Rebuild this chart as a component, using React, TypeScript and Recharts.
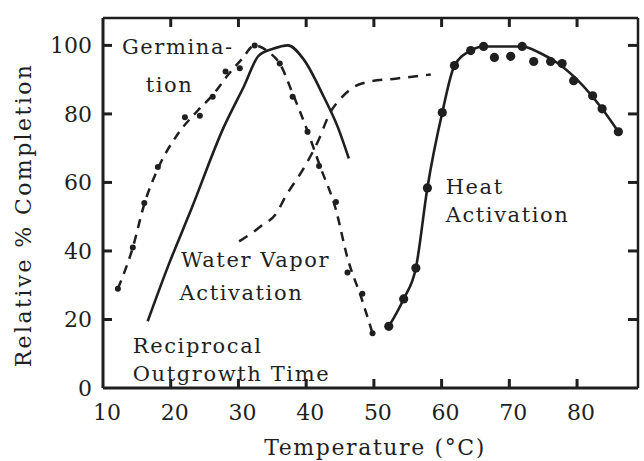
import { ComposedChart, Line, Scatter, XAxis, YAxis, ReferenceDot, ReferenceLine } from 'recharts'

// temperature (°C) and relative % completion
const germDotTemp = [12.2, 14.4, 16.1, 18.1, 22.1, 24.3, 26.2, 28.1, 30.2, 32.4, 36.1, 38.0, 40.2, 41.9, 44.4, 46.1, 48.3, 49.8]
const germDotPct = [29, 41, 54, 64.5, 79, 79.5, 85, 92.4, 93.3, 100, 94.7, 85, 74.8, 64.8, 54.3, 33.7, 27.5, 16]

// the dashed germination curve drawn through those dots
const germCurveTemp = [12.2, 14.4, 16.1, 18.1, 21.0, 24.0, 26.2, 28.5, 30.5, 32.4, 34.5, 36.1, 38.0, 40.2, 42.0, 44.4, 46.1, 48.2, 49.8]
const germCurvePct = [29, 41, 53.7, 64, 74, 81, 85.5, 91.5, 96, 100, 98, 94.7, 86, 75, 65, 52, 38, 26, 16]

const recipTemp = [16.6, 19.6, 23.0, 27.8, 30.8, 33.0, 35.1, 37.3, 39.6, 42.6, 44.7, 46.3]
const recipPct = [19.5, 35.5, 52, 76, 88, 97, 99, 100, 96, 85, 76, 67]

const vaporTemp = [30.1, 33.3, 35.8, 36.7, 39.6, 41.7, 43.6, 45.1, 46.6, 49.5, 53.2, 58.4]
const vaporPct = [42.8, 47.2, 51.6, 55, 64, 71.8, 80.6, 84.5, 87.3, 89.5, 90.3, 91.5]

const heatCurveTemp = [52.2, 54.4, 56.2, 57.9, 60.1, 61.9, 64.3, 66.2, 71.9, 74.6, 77.0, 80.0, 83.7, 86.1]
const heatCurvePct = [18, 26, 35, 58.4, 80.4, 94.1, 98.5, 99.7, 99.7, 97.7, 95, 90, 81.5, 74.8]

const heatDotTemp = [52.2, 54.4, 56.2, 57.9, 60.1, 61.9, 64.3, 66.2, 67.8, 70.2, 71.9, 73.6, 76.1, 77.8, 79.5, 82.3, 83.7, 86.1]
const heatDotPct = [18, 26, 35, 58.4, 80.4, 94.1, 98.5, 99.7, 96.5, 96.8, 99.7, 95.3, 95.3, 94.7, 89.7, 85.3, 81.5, 74.8]

const xMin = 10
const xMax = 89
const yMax = 108
const xTicks = [10, 20, 30, 40, 50, 60, 70, 80]
const yTicks = [0, 20, 40, 60, 80, 100]
const topTicks = [20, 30, 40, 50, 60, 70, 80]
const rightTicks = [20, 40, 60, 80, 100]

// text labels placed at [temp, pct] (left end, baseline)
const notes: [string, number, number][] = [
  ['Germina-', 12.8, 97.4],
  ['tion', 16.3, 86.5],
  ['Water Vapor', 21.5, 35.3],
  ['Activation', 21.3, 25.8],
  ['Reciprocal', 14.4, 10.3],
  ['Outgrowth  Time', 14.4, 2.0],
  ['Heat', 60.6, 56.6],
  ['Activation', 60.6, 48.4],
]

const zip = (xs: number[], ys: number[]) => xs.map((t, i) => ({ t, p: ys[i] }))

const ink = '#1f1f1f'
const font = '"DejaVu Serif", serif'

const BottomTick = (props: any) => {
  const { x, y, payload } = props
  return (
    <g>
      {payload.value !== 10 && <line x1={x} x2={x} y1={y} y2={y - 9} stroke={ink} strokeWidth={3} />}
      <text x={x + 4} y={y + 32} textAnchor="middle" fontSize={22} fontFamily={font} fill={ink}>
        {payload.value}
      </text>
    </g>
  )
}

const LeftTick = (props: any) => {
  const { x, y, payload } = props
  return (
    <g>
      {payload.value !== 0 && <line x1={x} x2={x + 9} y1={y} y2={y} stroke={ink} strokeWidth={3} />}
      <text x={x - 11} y={y + 8} textAnchor="end" fontSize={22} fontFamily={font} fill={ink}>
        {payload.value}
      </text>
    </g>
  )
}

const SmallDot = (props: any) => {
  const { cx, cy } = props
  return <circle cx={cx} cy={cy} r={3} fill={ink} stroke="none" />
}

const BigDot = (props: any) => {
  const { cx, cy } = props
  return <circle cx={cx} cy={cy} r={4.6} fill={ink} stroke="none" />
}

export default function App() {
  return (
    <div style={{ position: 'absolute', left: 0, top: 0, width: 644, height: 461, background: '#fff' }}>
      <ComposedChart width={644} height={461} margin={{ top: 18, right: 6, bottom: 0, left: 0 }}>
        <XAxis
          type="number"
          dataKey="t"
          domain={[xMin, xMax]}
          ticks={xTicks}
          allowDataOverflow
          height={73}
          tickSize={0}
          tickMargin={0}
          tickLine={false}
          axisLine={{ stroke: ink, strokeWidth: 3 }}
          tick={<BottomTick />}
          label={{
            content: () => (
              <text x={375} y={455} textAnchor="middle" fontSize={22} letterSpacing={1.6} fontFamily={font} fill={ink}>
                Temperature (°C)
              </text>
            ),
          }}
        />
        <YAxis
          type="number"
          domain={[0, yMax]}
          ticks={yTicks}
          allowDataOverflow
          width={103}
          tickSize={0}
          tickMargin={0}
          tickLine={false}
          axisLine={{ stroke: ink, strokeWidth: 3 }}
          tick={<LeftTick />}
          label={{
            content: () => (
              <text
                x={31}
                y={215}
                transform="rotate(-90 31 215)"
                textAnchor="middle"
                fontSize={22}
                letterSpacing={2.4}
                fontFamily={font}
                fill={ink}
              >
                Relative % Completion
              </text>
            ),
          }}
        />

        {/* top and right sides of the frame, with short inward ticks */}
        <ReferenceLine y={yMax} stroke={ink} strokeWidth={2.5} />
        <ReferenceLine x={xMax} stroke={ink} strokeWidth={2.5} />
        {topTicks.map((t) => (
          <ReferenceDot
            key={'t' + t}
            x={t}
            y={yMax}
            r={0}
            ifOverflow="visible"
            shape={(s: any) => <line x1={s.cx} x2={s.cx} y1={s.cy} y2={s.cy + 9} stroke={ink} strokeWidth={3} />}
          />
        ))}
        {rightTicks.map((p) => (
          <ReferenceDot
            key={'r' + p}
            x={xMax}
            y={p}
            r={0}
            ifOverflow="visible"
            shape={(s: any) => <line x1={s.cx} x2={s.cx - 10} y1={s.cy} y2={s.cy} stroke={ink} strokeWidth={3} />}
          />
        ))}

        <Line
          data={zip(germCurveTemp, germCurvePct)}
          dataKey="p"
          type="monotone"
          stroke={ink}
          strokeWidth={2.5}
          strokeDasharray="9 7"
          dot={false}
          activeDot={false}
          isAnimationActive={false}
        />
        <Scatter data={zip(germDotTemp, germDotPct)} dataKey="p" fill={ink} shape={<SmallDot />} isAnimationActive={false} />
        <Line
          data={zip(recipTemp, recipPct)}
          dataKey="p"
          type="monotone"
          stroke={ink}
          strokeWidth={2.6}
          dot={false}
          activeDot={false}
          isAnimationActive={false}
        />
        <Line
          data={zip(vaporTemp, vaporPct)}
          dataKey="p"
          type="monotone"
          stroke={ink}
          strokeWidth={2.5}
          strokeDasharray="10 8"
          dot={false}
          activeDot={false}
          isAnimationActive={false}
        />
        <Line
          data={zip(heatCurveTemp, heatCurvePct)}
          dataKey="p"
          type="monotone"
          stroke={ink}
          strokeWidth={2.6}
          dot={false}
          activeDot={false}
          isAnimationActive={false}
        />
        <Scatter data={zip(heatDotTemp, heatDotPct)} dataKey="p" fill={ink} shape={<BigDot />} isAnimationActive={false} />

        {notes.map(([text, t, p], i) => (
          <ReferenceDot
            key={i}
            x={t}
            y={p}
            r={0}
            shape={(s: any) => (
              <text x={s.cx} y={s.cy} fontSize={21} letterSpacing={1.6} fontFamily={font} fill={ink}>
                {text}
              </text>
            )}
          />
        ))}
      </ComposedChart>
    </div>
  )
}
